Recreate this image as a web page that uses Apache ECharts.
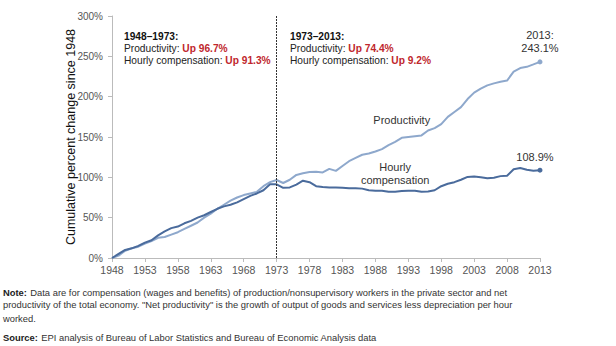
<!DOCTYPE html>
<html><head><meta charset="utf-8">
<script src="https://cdn.jsdelivr.net/npm/echarts@6/dist/echarts.min.js"></script>
<style>html,body{margin:0;padding:0;background:#fff}#c{width:616px;height:346px}</style>
</head><body><div id="c"></div>
<script>
const years = [];
for (let y = 1948; y <= 2013; y++) years.push(String(y));
const productivity = [0,3,9,12,14,18,21,25,26,29,32,36,40,44,50,55,61,66,71,75,78,80,82,89,94,96.7,
  93,97,103,105,106.6,107,106,110.5,108,114,120,124,128,129.5,132,135,140,144,149,150,151,152,158,161,
  166,175,181,187,197,205,210,214,216.5,218.5,220,231,235.5,237,240,243.1];
const compensation = [0,5,10,12,15,19,22,28,33,37,39,43,46,50,53,57,61,64,66,69,73,77,80,84,91.5,91.3,
  87,87.5,91,95.8,94,89,88,87.5,87.5,87,86.5,86.5,86,84,83.5,83.5,82,82,83,83.5,83.5,82,82.5,84,
  89,92,94,97,100.5,101,100,99,99.5,101.5,102,110,111.5,109.5,108.3,108.9];
const yTicks = [0,50,100,150,200,250,300];

const F = 'Liberation Sans, Arial, sans-serif';
const NF = '"Liberation Sans Narrow", "Arial Narrow", sans-serif';
const chart = echarts.init(document.getElementById('c'), null, {renderer: 'svg'});
const lightC = '#8ea8cc', darkC = '#4a6b9c';
const rich = {
  b: {fontFamily: F, fontSize: 10.2, fontWeight: 'bold', fill: '#111', lineHeight: 12},
  n: {fontFamily: F, fontSize: 10.2, fill: '#222', lineHeight: 12},
  r: {fontFamily: F, fontSize: 10.2, fontWeight: 'bold', fill: '#c0272d', lineHeight: 12}
};
const NS = 9.4;
const nrich = {b: {fontFamily: NF, fontSize: NS, fontWeight: 'bold', fill: '#222'}, n: {fontFamily: NF, fontSize: NS, fill: '#333'}};
chart.setOption({
  animation: false,
  grid: {left: 112, right: 76, top: 16, bottom: 88},
  xAxis: {
    type: 'category', data: years, boundaryGap: false,
    axisLine: {lineStyle: {color: '#bbb'}},
    axisTick: {interval: 4, length: 4, lineStyle: {color: '#bbb'}},
    axisLabel: {interval: 4, color: '#555', fontFamily: F, fontSize: 10.5, margin: 6}
  },
  yAxis: {
    type: 'value', min: 0, max: 300, interval: 50,
    splitLine: {show: false},
    axisLine: {show: true, lineStyle: {color: '#bbb'}},
    axisTick: {show: true, length: 4, lineStyle: {color: '#bbb'}},
    axisLabel: {color: '#555', fontFamily: F, fontSize: 10, margin: 9, formatter: v => v + '%'},
    name: 'Cumulative percent change since 1948', nameLocation: 'middle', nameGap: 41,
    nameMoveOverlap: false,
    nameTextStyle: {color: '#111', fontFamily: F, fontSize: 12.5, fontWeight: 'normal', verticalAlign: 'middle'}
  },
  series: [
    {
      name: 'Productivity', type: 'line', data: productivity, symbol: 'none',
      lineStyle: {color: lightC, width: 2}, itemStyle: {color: lightC}, z: 2,
      markPoint: {
        symbol: 'circle', symbolSize: 5, itemStyle: {color: lightC},
        data: [
          {coord: ['2013', 243.1], label: {show: true, position: 'top', distance: 5, formatter: '2013:\n243.1%', color: '#333', fontFamily: F, fontSize: 11, lineHeight: 13}},
          {coord: ['1992', 171], symbolSize: 0, label: {show: true, position: 'inside', formatter: 'Productivity', color: '#333', fontFamily: F, fontSize: 11}}
        ]
      },
      markLine: {
        silent: true, symbol: 'none', label: {show: false},
        lineStyle: {color: '#333', type: [2, 1], width: 1},
        data: [{xAxis: '1973'}]
      }
    },
    {
      name: 'Hourly compensation', type: 'line', data: compensation, symbol: 'none',
      lineStyle: {color: darkC, width: 2}, itemStyle: {color: darkC}, z: 3,
      markPoint: {
        symbol: 'circle', symbolSize: 5, itemStyle: {color: darkC},
        data: [
          {coord: ['2013', 108.9], label: {show: true, position: 'top', distance: 5, offset: [-5, 0], formatter: '108.9%', color: '#333', fontFamily: F, fontSize: 11}},
          {coord: ['1991', 104.5], symbolSize: 0, label: {show: true, position: 'inside', formatter: 'Hourly\ncompensation', color: '#333', fontFamily: F, fontSize: 11, lineHeight: 13}}
        ]
      }
    }
  ],
  graphic: [
    {type: 'text', left: 124, top: 31, style: {
      text: '{b|1948–1973:}\n{n|Productivity: }{r|Up 96.7%}\n{n|Hourly compensation: }{r|Up 91.3%}', rich: rich}},
    {type: 'text', left: 290, top: 31, style: {
      text: '{b|1973–2013:}\n{n|Productivity: }{r|Up 74.4%}\n{n|Hourly compensation: }{r|Up 9.2%}', rich: rich}},
    {type: 'text', left: 3, top: 286, style: {
      text: '{b|Note:} {n|Data are for compensation (wages and benefits) of production/nonsupervisory workers in the private sector and net}', rich: nrich}},
    {type: 'text', left: 3, top: 300, style: {
      text: 'productivity of the total economy. "Net productivity" is the growth of output of goods and services less depreciation per hour',
      fontFamily: NF, fontSize: NS, fill: '#333'}},
    {type: 'text', left: 3, top: 314, style: {
      text: 'worked.', fontFamily: NF, fontSize: NS, fill: '#333'}},
    {type: 'text', left: 3, top: 331, style: {
      text: '{b|Source:} {n|EPI analysis of Bureau of Labor Statistics and Bureau of Economic Analysis data}', rich: nrich}}
  ]
});
</script></body></html>
